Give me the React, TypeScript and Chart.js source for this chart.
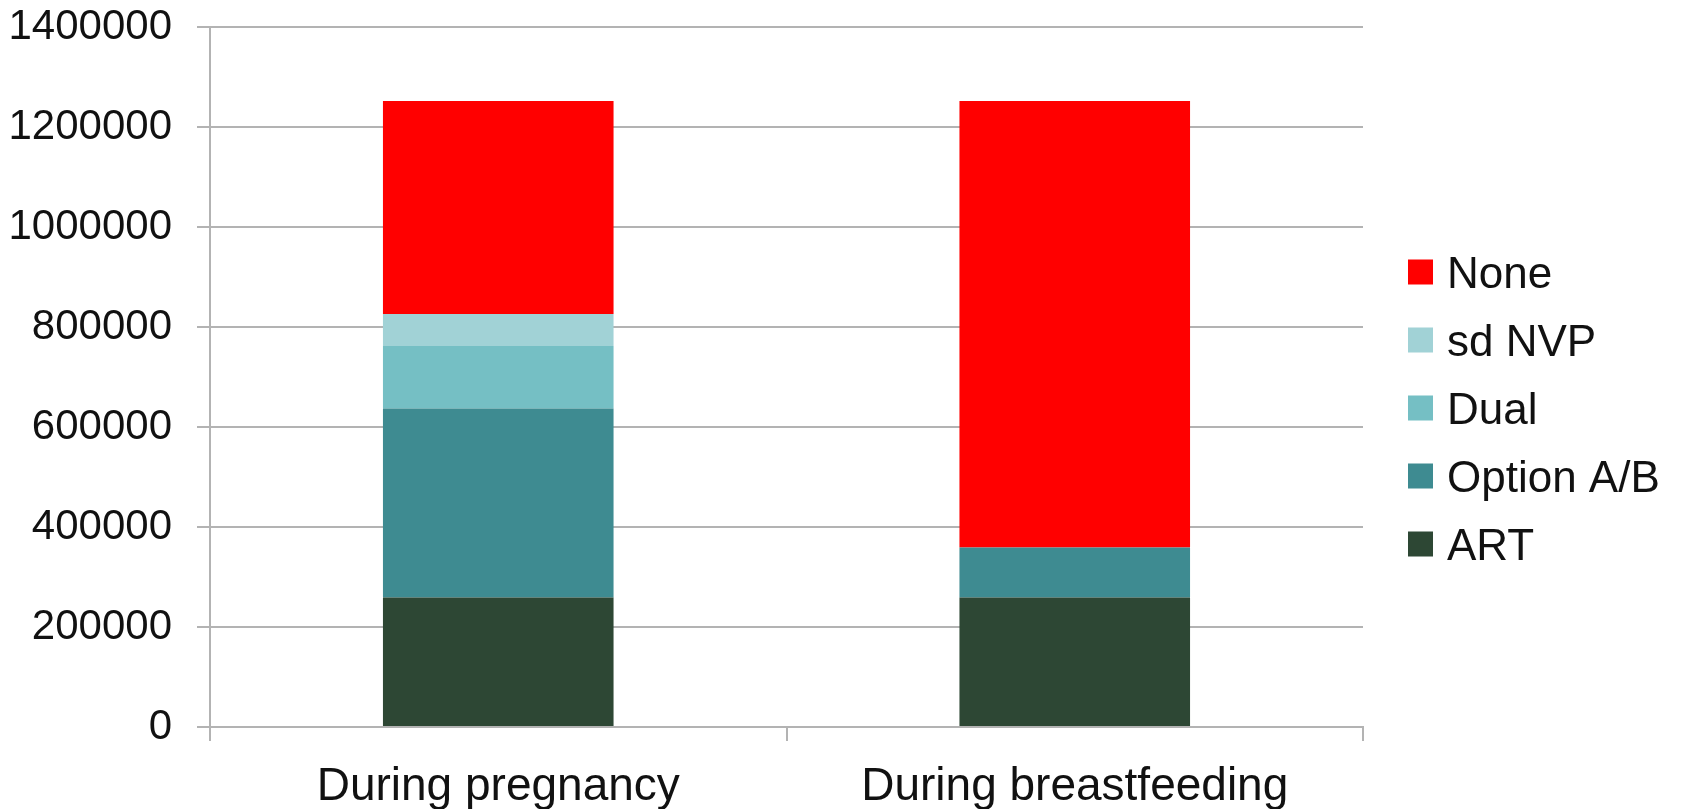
import React, { useEffect, useRef } from 'react';
import { Chart, registerables } from 'chart.js';

Chart.register(...registerables);

// ---- data ----
const categories = ['During pregnancy', 'During breastfeeding'];
const seriesNames = ['ART', 'Option A/B', 'Dual', 'sd NVP', 'None'];
const artValues = [259000, 259000];
const optionABValues = [378000, 100000];
const dualValues = [125000, 0];
const sdNvpValues = [64000, 0];
const noneValues = [426000, 893000];
const seriesColors = ['#2D4734', '#3E8B91', '#75BFC4', '#A1D2D6', '#FF0000'];
const yMin = 0;
const yMax = 1400000;
const yStep = 200000;

const FONT = '"Liberation Sans", Arial, Helvetica, sans-serif';
const TEXT = '#111111';
const GRID = '#b3b3b3';

const sideLegend = {
  id: 'sideLegend',
  afterDraw(chart: any) {
    const ctx = chart.ctx;
    const area = chart.chartArea;
    const items = chart.data.datasets
      .map((d: any) => ({ label: d.label, color: d.backgroundColor }))
      .reverse();
    const boxX = area.right + 45;
    const textX = boxX + 39;
    const firstY = 272;
    const step = 68;
    ctx.save();
    ctx.font = `44px ${FONT}`;
    ctx.textBaseline = 'alphabetic';
    ctx.textAlign = 'left';
    items.forEach((it: any, i: number) => {
      const cy = firstY + i * step;
      ctx.fillStyle = it.color;
      ctx.fillRect(boxX, cy - 12.5, 25, 25);
      ctx.fillStyle = TEXT;
      ctx.fillText(it.label, textX, cy + 15.5);
    });
    ctx.restore();
  },
};

export default function App() {
  const canvasRef = useRef<HTMLCanvasElement | null>(null);

  useEffect(() => {
    const canvas = canvasRef.current;
    if (!canvas) return;
    const seriesValues = [artValues, optionABValues, dualValues, sdNvpValues, noneValues];
    const chart = new Chart(canvas, {
      type: 'bar',
      data: {
        labels: categories,
        datasets: seriesNames.map((name, i) => ({
          label: name,
          data: seriesValues[i],
          backgroundColor: seriesColors[i],
          borderWidth: 0,
          barPercentage: 1,
          categoryPercentage: 0.4,
        })),
      },
      options: {
        responsive: false,
        animation: false,
        layout: { padding: { top: 27, right: 326, bottom: 0, left: 0 } },
        plugins: {
          legend: { display: false },
          tooltip: { enabled: false },
          title: { display: false },
        },
        scales: {
          x: {
            stacked: true,
            grid: {
              display: true,
              drawOnChartArea: false,
              drawTicks: true,
              tickLength: 14,
              color: GRID,
              lineWidth: 2,
              offset: true,
            },
            border: { display: true, color: GRID, width: 2 },
            ticks: {
              font: { family: FONT, size: 46 },
              color: TEXT,
              padding: 19,
              maxRotation: 0,
              autoSkip: false,
            },
            afterFit: (s: any) => {
              s.height = 82;
              s.paddingLeft = 0;
              s.paddingRight = 0;
            },
          },
          y: {
            stacked: true,
            min: yMin,
            max: yMax,
            ticks: {
              stepSize: yStep,
              font: { family: FONT, size: 42 },
              color: TEXT,
              padding: 25,
              callback: (v: any) => String(v),
            },
            grid: { color: GRID, lineWidth: 2, tickLength: 13 },
            border: { display: true, color: GRID, width: 2 },
            afterFit: (s: any) => {
              s.width = 210;
              s.paddingTop = 0;
              s.paddingBottom = 0;
            },
          },
        },
      },
      plugins: [sideLegend],
    });
    return () => chart.destroy();
  }, []);

  return (
    <div style={{ position: 'absolute', left: 0, top: 0, width: 1689, height: 809, background: '#ffffff' }}>
      <canvas ref={canvasRef} width={1689} height={809} style={{ display: 'block' }} />
    </div>
  );
}
